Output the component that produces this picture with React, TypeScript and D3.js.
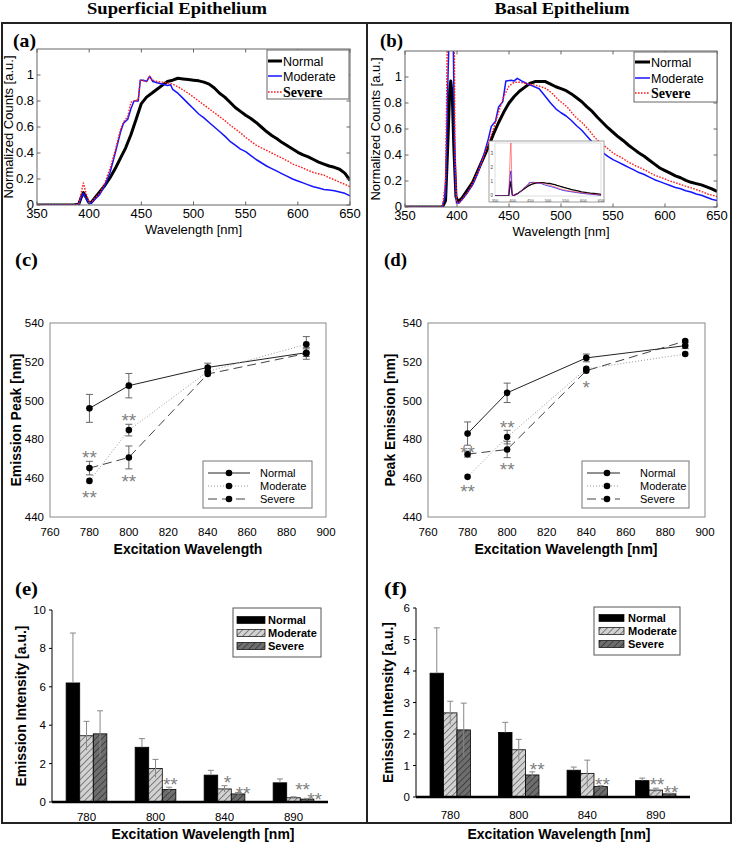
import * as d3 from "d3";

type Pt = [number, number];

const SANS = "'Liberation Sans', Arial, Helvetica, sans-serif";
const NARROW = "'Liberation Sans Narrow', 'Arial Narrow', 'Liberation Sans', Arial, sans-serif";
const SERIF = "'Liberation Serif', 'Times New Roman', Times, serif";

// (a) superficial epithelium, normalized spectra [nm, counts]
const supNormal: Pt[] = [
  [350, 0], [385, 0], [390, 0.005], [392, 0.05], [394.5, 0.095], [397, 0.06], [399.5, 0.02], [402, 0.02],
  [405, 0.05], [410, 0.1], [415, 0.15], [420, 0.21], [425, 0.28], [430, 0.36], [435, 0.44], [440, 0.54],
  [445, 0.66], [450, 0.78], [455, 0.83], [460, 0.86], [465, 0.89], [470, 0.92], [475, 0.95], [480, 0.96],
  [485, 0.975], [490, 0.97], [495, 0.965], [500, 0.96], [505, 0.955], [510, 0.945], [515, 0.93], [520, 0.9],
  [525, 0.86], [530, 0.83], [535, 0.79], [540, 0.75], [545, 0.72], [550, 0.69], [555, 0.665], [560, 0.635],
  [565, 0.6], [570, 0.565], [575, 0.535], [580, 0.51], [585, 0.48], [590, 0.455], [595, 0.43], [600, 0.405],
  [605, 0.385], [610, 0.37], [615, 0.35], [620, 0.33], [625, 0.315], [630, 0.3], [635, 0.29], [640, 0.275],
  [645, 0.245], [650, 0.19],
];
const supModerate: Pt[] = [
  [350, 0], [385, 0], [390, 0.005], [392, 0.05], [394.5, 0.09], [397, 0.05], [400, 0.01], [403, 0.02],
  [405, 0.04], [410, 0.08], [415, 0.15], [420, 0.25], [425, 0.4], [430, 0.56], [433, 0.63], [437, 0.66],
  [440, 0.74], [443, 0.8], [447, 0.8], [449, 0.96], [452, 0.96], [455, 0.95], [458, 0.99], [461, 0.95],
  [465, 0.94], [470, 0.93], [475, 0.92], [478, 0.925], [480, 0.89], [485, 0.86], [490, 0.82], [495, 0.78],
  [500, 0.74], [505, 0.7], [510, 0.67], [515, 0.635], [520, 0.6], [525, 0.565], [530, 0.53], [535, 0.49],
  [540, 0.46], [545, 0.43], [550, 0.41], [555, 0.38], [560, 0.35], [565, 0.325], [570, 0.3], [575, 0.28],
  [580, 0.26], [585, 0.24], [590, 0.22], [595, 0.2], [600, 0.185], [605, 0.17], [610, 0.155], [615, 0.14],
  [620, 0.13], [625, 0.12], [630, 0.115], [635, 0.11], [640, 0.1], [645, 0.09], [650, 0.07],
];
const supSevere: Pt[] = [
  [350, 0], [385, 0], [390, 0.005], [392, 0.08], [394.5, 0.17], [397, 0.09], [400, 0.02], [403, 0.03],
  [405, 0.05], [410, 0.09], [415, 0.17], [420, 0.28], [425, 0.42], [430, 0.58], [433, 0.64], [437, 0.68],
  [440, 0.79], [443, 0.8], [447, 0.81], [449, 0.96], [452, 0.955], [455, 0.95], [458, 0.99], [461, 0.96],
  [465, 0.95], [470, 0.945], [475, 0.94], [480, 0.93], [485, 0.91], [490, 0.885], [495, 0.86], [500, 0.83],
  [505, 0.8], [510, 0.77], [515, 0.74], [520, 0.71], [525, 0.68], [530, 0.65], [535, 0.615], [540, 0.585],
  [545, 0.555], [550, 0.52], [555, 0.49], [560, 0.46], [565, 0.44], [570, 0.42], [575, 0.4], [580, 0.38],
  [585, 0.36], [590, 0.34], [595, 0.315], [600, 0.3], [605, 0.285], [610, 0.265], [615, 0.25], [620, 0.24],
  [625, 0.23], [630, 0.21], [635, 0.195], [640, 0.175], [645, 0.16], [650, 0.14],
];

// (b) basal epithelium, normalized spectra
const basNormal: Pt[] = [
  [350, 0], [386, 0], [389, 0.05], [391, 0.45], [393, 0.9], [394, 0.97], [395.5, 0.85], [397, 0.45],
  [399, 0.08], [401, 0.04], [405, 0.07], [410, 0.13], [415, 0.19], [420, 0.28], [425, 0.37], [430, 0.46],
  [435, 0.56], [440, 0.65], [445, 0.73], [450, 0.8], [455, 0.85], [460, 0.89], [465, 0.92], [470, 0.95],
  [475, 0.965], [480, 0.965], [485, 0.965], [490, 0.945], [495, 0.925], [500, 0.91], [505, 0.895], [510, 0.87],
  [515, 0.84], [520, 0.81], [525, 0.77], [530, 0.735], [535, 0.69], [540, 0.65], [545, 0.61], [550, 0.575],
  [555, 0.54], [560, 0.51], [565, 0.475], [570, 0.445], [575, 0.415], [580, 0.39], [585, 0.36], [590, 0.33],
  [595, 0.3], [600, 0.28], [605, 0.26], [610, 0.24], [615, 0.225], [620, 0.205], [625, 0.19], [630, 0.18],
  [635, 0.17], [640, 0.155], [645, 0.14], [650, 0.12],
];
const basModerate: Pt[] = [
  [350, 0], [386, 0], [389, 0.1], [391, 0.9], [393, 1.5], [395, 1.8], [396.5, 1.2], [398, 0.3],
  [399.5, 0.03], [402, 0.03], [405, 0.06], [410, 0.11], [415, 0.17], [420, 0.26], [425, 0.38], [430, 0.52],
  [433, 0.62], [437, 0.66], [440, 0.77], [444, 0.81], [447, 0.97], [452, 0.975], [455, 0.97], [458, 0.99],
  [462, 0.97], [467, 0.95], [473, 0.93], [479, 0.91], [485, 0.85], [490, 0.8], [495, 0.755], [500, 0.725],
  [505, 0.7], [510, 0.665], [515, 0.625], [520, 0.59], [525, 0.545], [530, 0.5], [535, 0.465], [540, 0.42],
  [545, 0.39], [550, 0.365], [555, 0.345], [560, 0.325], [565, 0.305], [570, 0.285], [575, 0.265], [580, 0.25],
  [585, 0.23], [590, 0.21], [595, 0.195], [600, 0.18], [605, 0.165], [610, 0.15], [615, 0.14], [620, 0.125],
  [625, 0.115], [630, 0.1], [635, 0.09], [640, 0.075], [645, 0.06], [650, 0.05],
];
const basSevere: Pt[] = [
  [350, 0], [386, 0], [389, 0.2], [391, 1.5], [393, 3.0], [395, 3.9], [396.5, 2.5], [398, 0.5],
  [399.5, 0.04], [402, 0.03], [405, 0.06], [410, 0.11], [415, 0.18], [420, 0.27], [425, 0.37], [430, 0.49],
  [435, 0.6], [440, 0.73], [445, 0.85], [450, 0.93], [455, 0.96], [460, 0.96], [466, 0.95], [473, 0.94],
  [479, 0.93], [486, 0.91], [492, 0.87], [498, 0.82], [503, 0.79], [507, 0.76], [513, 0.7], [520, 0.65],
  [526, 0.6], [532, 0.54], [538, 0.49], [545, 0.45], [551, 0.41], [558, 0.38], [564, 0.35], [571, 0.32],
  [578, 0.295], [584, 0.27], [590, 0.245], [597, 0.225], [603, 0.205], [609, 0.19], [616, 0.17], [622, 0.155],
  [628, 0.14], [635, 0.12], [641, 0.1], [648, 0.085], [650, 0.08],
];

const groupNames = ["Normal", "Moderate", "Severe"];
const wavelengthTicks = [350, 400, 450, 500, 550, 600, 650];
const countTicks = [0, 0.2, 0.4, 0.6, 0.8, 1];
const insetTicksY = [0, 1, 2, 3];

// (c),(d) emission peak vs excitation
const excitation = [780, 800, 840, 890];
const excitationTicks = [760, 780, 800, 820, 840, 860, 880, 900];
const peakTicks = [440, 460, 480, 500, 520, 540];
const supPeakNormal = [496, 507.7, 517.1, 524.7];
const supPeakModerate = [458.6, 484.8, 515, 529];
const supPeakSevere = [465.2, 470.7, 513.7, 524.3];
const supPeakErrNormal = [7.2, 6.3, 2.2, 2];
const supPeakErrModerate = [0, 3, 0, 4];
const supPeakErrSevere = [3.5, 5.9, 0, 3];
const basPeakNormal = [483, 504, 522, 528.3];
const basPeakModerate = [460.7, 481.2, 516.4, 524];
const basPeakSevere = [472.4, 474.8, 515.4, 530.7];
const basPeakErrNormal = [6, 5, 2, 1.5];
const basPeakErrModerate = [0, 3.5, 0, 0];
const basPeakErrSevere = [1.5, 4.2, 0, 0];
const supPeakMarks = [
  { x: 780, y: 473.2, t: "**" }, { x: 780, y: 452.3, t: "**" },
  { x: 800, y: 492, t: "**" }, { x: 800, y: 460.8, t: "**" },
];
const basPeakMarks = [
  { x: 780, y: 475.5, t: "**" }, { x: 780, y: 455.5, t: "**" },
  { x: 800, y: 488.7, t: "**" }, { x: 800, y: 466.7, t: "**" },
  { x: 840, y: 508.9, t: "*" },
];

// (e),(f) emission intensity
const barCategories = ["780", "800", "840", "890"];
const supIntNormal = [6.2, 2.85, 1.4, 1.0];
const supIntModerate = [3.45, 1.75, 0.68, 0.22];
const supIntSevere = [3.55, 0.65, 0.42, 0.15];
const supIntErrNormal = [2.6, 0.45, 0.25, 0.2];
const supIntErrModerate = [0.75, 0.47, 0.17, 0.05];
const supIntErrSevere = [1.2, 0.12, 0.07, 0.04];
const basIntNormal = [3.93, 2.05, 0.85, 0.52];
const basIntModerate = [2.67, 1.5, 0.75, 0.22];
const basIntSevere = [2.13, 0.7, 0.33, 0.1];
const basIntErrNormal = [1.44, 0.32, 0.1, 0.08];
const basIntErrModerate = [0.37, 0.33, 0.42, 0.06];
const basIntErrSevere = [0.85, 0.1, 0.03, 0.02];
const supIntTicks = [0, 2, 4, 6, 8, 10];
const basIntTicks = [0, 1, 2, 3, 4, 5, 6];
// slot = position in bar widths inside the group
const supIntMarks = [
  { cat: "800", slot: 2.59, v: 1.17, t: "**" }, { cat: "840", slot: 1.72, v: 1.25, t: "*" },
  { cat: "840", slot: 2.87, v: 0.7, t: "**" }, { cat: "890", slot: 2.17, v: 0.89, t: "**" },
  { cat: "890", slot: 3.05, v: 0.36, t: "**" },
];
const basIntMarks = [
  { cat: "800", slot: 2.87, v: 1.02, t: "**" }, { cat: "840", slot: 2.63, v: 0.54, t: "**" },
  { cat: "890", slot: 1.6, v: 0.54, t: "**" }, { cat: "890", slot: 2.64, v: 0.29, t: "**" },
];

const specStyles = [
  { color: "#000000", width: 3, dash: undefined as string | undefined },
  { color: "#1414ff", width: 1.5, dash: undefined as string | undefined },
  { color: "#ff1a1a", width: 1.4, dash: "1.6,1.4" },
];
const peakStyles = [
  { color: "#222", dash: undefined as string | undefined },
  { color: "#999", dash: "1,2" },
  { color: "#444", dash: "9,5" },
];
const barFills = ["#000000", "url(#hatchLight)", "url(#hatchDark)"];

function Star({ x, y, t }: { x: number; y: number; t: string }) {
  // y is the centre of the asterisk glyph
  return (
    <text x={x} y={y + 11} textAnchor="middle" fontFamily={SANS} fontSize={19}
      fill="#808080">{t}</text>
  );
}

function Tag({ x, y, t }: { x: number; y: number; t: string }) {
  return (
    <text x={x} y={y} fontFamily={SERIF} fontWeight="bold" fontSize={19} textLength={23}
      lengthAdjust="spacingAndGlyphs" fill="#000">{t}</text>
  );
}

function SpectrumPanel({ box, data, legend, tag, tagX, yTitleX, clipId, inset }: any) {
  const x = d3.scaleLinear().domain([350, 650]).range([box.left, box.right]);
  const y = d3.scaleLinear().domain([0, 1.2]).range([box.bottom, box.top]);
  const line = d3.line<Pt>().x((d) => x(d[0])).y((d) => y(d[1]));
  const tl = 3.5;

  let insetEls = null;
  if (inset) {
    const ix = d3.scaleLinear().domain([350, 650]).range([inset.left + 6, inset.right - 3]);
    const iy = d3.scaleLinear().domain([0, 3.8]).range([inset.bottom - 6, inset.top + 2]);
    const iline = d3.line<Pt>().x((d) => ix(d[0])).y((d) => iy(d[1]));
    const iw = [1.3, 0.8, 0.7];
    insetEls = (
      <g>
        <rect x={inset.left} y={inset.top} width={inset.right - inset.left}
          height={inset.bottom - inset.top} fill="#fff" stroke="#888" strokeWidth={0.8} />
        <defs>
          <clipPath id={clipId + "i"}>
            <rect x={ix.range()[0]} y={iy.range()[1]} width={ix.range()[1] - ix.range()[0]}
              height={iy.range()[0] - iy.range()[1]} />
          </clipPath>
        </defs>
        <rect x={ix.range()[0]} y={iy.range()[1]} width={ix.range()[1] - ix.range()[0]}
          height={iy.range()[0] - iy.range()[1]} fill="none" stroke="#bbb" strokeWidth={0.5} />
        <g clipPath={`url(#${clipId}i)`}>
          {data.map((s: Pt[], i: number) => (
            <path key={i} d={iline(s) || ""} fill="none" stroke={specStyles[i].color}
              strokeWidth={iw[i]} opacity={i === 2 ? 0.75 : 1} />
          ))}
        </g>
        {wavelengthTicks.map((t) => (
          <text key={t} x={ix(t)} y={inset.bottom - 0.5} textAnchor="middle" fontFamily={SANS}
            fontSize={4} fill="#444">{t}</text>
        ))}
        {insetTicksY.map((t) => (
          <text key={t} x={ix.range()[0] - 2} y={iy(t) + 1.2} textAnchor="end" fontFamily={SANS}
            fontSize={4.5} fill="#444">{t}</text>
        ))}
      </g>
    );
  }

  return (
    <g>
      <defs>
        <clipPath id={clipId}>
          <rect x={box.left} y={box.top} width={box.right - box.left} height={box.bottom - box.top} />
        </clipPath>
      </defs>
      <g clipPath={`url(#${clipId})`}>
        {data.map((s: Pt[], i: number) => (
          <path key={i} d={line(s) || ""} fill="none" stroke={specStyles[i].color}
            strokeWidth={specStyles[i].width} strokeDasharray={specStyles[i].dash}
            strokeLinejoin="round" />
        ))}
      </g>
      {insetEls}
      <rect x={box.left} y={box.top} width={box.right - box.left} height={box.bottom - box.top}
        fill="none" stroke="#666" strokeWidth={1} />
      {wavelengthTicks.map((t) => (
        <g key={t}>
          <line x1={x(t)} x2={x(t)} y1={box.bottom} y2={box.bottom - tl} stroke="#666" />
          <line x1={x(t)} x2={x(t)} y1={box.top} y2={box.top + tl} stroke="#666" />
          <text x={x(t)} y={box.bottom + 13} textAnchor="middle" fontFamily={NARROW}
            fontSize={13} fill="#000">{t}</text>
        </g>
      ))}
      {countTicks.map((t) => (
        <g key={t}>
          <line x1={box.left} x2={box.left + tl} y1={y(t)} y2={y(t)} stroke="#666" />
          <line x1={box.right} x2={box.right - tl} y1={y(t)} y2={y(t)} stroke="#666" />
          <text x={box.left - 3} y={y(t) + 3.5} textAnchor="end" fontFamily={SANS}
            fontSize={13} fill="#000">{String(t)}</text>
        </g>
      ))}
      <text x={(box.left + box.right) / 2} y={box.bottom + 29} textAnchor="middle"
        fontFamily={SANS} fontSize={13} fill="#000">Wavelength [nm]</text>
      <text transform={`translate(${yTitleX},${(box.top + box.bottom) / 2}) rotate(-90)`}
        textAnchor="middle" dominantBaseline="central" fontFamily={SANS} fontSize={13}
        fill="#000">Normalized Counts [a.u.]</text>
      <g>
        <rect x={legend.x} y={legend.y} width={legend.w} height={legend.h} fill="#fff"
          stroke="#666" strokeWidth={1} />
        {groupNames.map((n, i) => {
          const ry = legend.rows[i];
          return (
            <g key={n}>
              <line x1={legend.lx0} x2={legend.lx1} y1={ry} y2={ry} stroke={specStyles[i].color}
                strokeWidth={specStyles[i].width} strokeDasharray={specStyles[i].dash} />
              {i < 2 ? (
                <text x={legend.tx} y={ry + 4.5} fontFamily={SANS} fontSize={12.5} fill="#000">{n}</text>
              ) : (
                <text x={legend.tx} y={ry + 5} fontFamily={SERIF} fontWeight="bold" fontSize={14}
                  fill="#000">{n}</text>
              )}
            </g>
          );
        })}
      </g>
      <Tag x={tagX} y={46.5} t={tag} />
    </g>
  );
}

function PeakPanel({ box, series, errs, marks, legend, yTitle, yTitleX, xTitle, xTitleX, tag, tagX }: any) {
  const x = d3.scaleLinear().domain([760, 900]).range([box.left, box.right]);
  const y = d3.scaleLinear().domain([440, 540]).range([box.bottom, box.top]);
  const line = d3.line<number>().x((_, i) => x(excitation[i])).y((d) => y(d));
  return (
    <g>
      <rect x={box.left} y={box.top} width={box.right - box.left} height={box.bottom - box.top}
        fill="none" stroke="#888" strokeWidth={1} />
      {series.map((s: number[], i: number) => (
        <path key={"l" + i} d={line(s) || ""} fill="none" stroke={peakStyles[i].color}
          strokeWidth={1} strokeDasharray={peakStyles[i].dash} />
      ))}
      {series.map((s: number[], i: number) =>
        s.map((v, j) => {
          const e = errs[i][j];
          if (!e) return null;
          const cx = x(excitation[j]);
          return (
            <g key={`e${i}-${j}`} stroke="#666" strokeWidth={1}>
              <line x1={cx} x2={cx} y1={y(v - e)} y2={y(v + e)} />
              <line x1={cx - 3.5} x2={cx + 3.5} y1={y(v + e)} y2={y(v + e)} />
              <line x1={cx - 3.5} x2={cx + 3.5} y1={y(v - e)} y2={y(v - e)} />
            </g>
          );
        })
      )}
      {series.map((s: number[], i: number) =>
        s.map((v, j) => <circle key={`c${i}-${j}`} cx={x(excitation[j])} cy={y(v)} r={3.3} fill="#000" />)
      )}
      {marks.map((m: any, k: number) => <Star key={k} x={x(m.x)} y={y(m.y)} t={m.t} />)}
      {excitationTicks.map((t) => (
        <text key={t} x={x(t)} y={box.bottom + 19} textAnchor="middle" fontFamily={SANS}
          fontSize={11.5} fill="#000">{t}</text>
      ))}
      {peakTicks.map((t) => (
        <text key={t} x={box.left - 6} y={y(t) + 4} textAnchor="end" fontFamily={SANS}
          fontSize={11.5} fill="#000">{t}</text>
      ))}
      <text x={xTitleX} y={554} textAnchor="middle" fontFamily={SANS} fontWeight="bold"
        fontSize={14} fill="#000">{xTitle}</text>
      <text transform={`translate(${yTitleX},${(box.top + box.bottom) / 2}) rotate(-90)`}
        textAnchor="middle" dominantBaseline="central" fontFamily={SANS} fontWeight="bold"
        fontSize={14} fill="#000">{yTitle}</text>
      <rect x={legend.x} y={legend.y} width={legend.w} height={legend.h} fill="#fff"
        stroke="#777" strokeWidth={1} />
      {groupNames.map((n, i) => {
        const ry = legend.rows[i];
        return (
          <g key={n}>
            <line x1={legend.lx0} x2={legend.lx1} y1={ry} y2={ry} stroke={peakStyles[i].color}
              strokeWidth={1} strokeDasharray={peakStyles[i].dash} />
            <circle cx={legend.mx} cy={ry} r={3.3} fill="#000" />
            <text x={legend.tx} y={ry + 4} fontFamily={SANS} fontSize={11} fill="#000">{n}</text>
          </g>
        );
      })}
      <Tag x={tagX} y={266} t={tag} />
    </g>
  );
}

function IntensityPanel({ frame, yMax, yTicks, series, errs, marks, legend, yTitleX, tag, tagX, catY }: any) {
  const x = d3.scaleBand().domain(barCategories).range([frame.left, frame.right])
    .paddingInner(0.41).paddingOuter(0.205);
  const inner = d3.scaleBand().domain(["0", "1", "2"]).range([0, x.bandwidth()]);
  const bw = inner.bandwidth();
  const y = d3.scaleLinear().domain([0, yMax]).range([frame.bottom, frame.top]);
  return (
    <g>
      {series.map((s: number[], i: number) =>
        s.map((v, j) => (
          <rect key={`b${i}-${j}`} x={(x(barCategories[j]) || 0) + (inner(String(i)) || 0)}
            y={y(v)} width={bw} height={frame.bottom - y(v)} fill={barFills[i]}
            stroke="#000" strokeWidth={0.8} />
        ))
      )}
      {series.map((s: number[], i: number) =>
        s.map((v, j) => {
          const e = errs[i][j];
          const cx = (x(barCategories[j]) || 0) + (inner(String(i)) || 0) + bw / 2;
          const lo = i === 0 ? v : v - e;
          return (
            <g key={`e${i}-${j}`} stroke="#888" strokeWidth={1}>
              <line x1={cx} x2={cx} y1={y(lo)} y2={y(v + e)} />
              <line x1={cx - 3} x2={cx + 3} y1={y(v + e)} y2={y(v + e)} />
            </g>
          );
        })
      )}
      {marks.map((m: any, k: number) => (
        <Star key={k} x={(x(m.cat) || 0) + m.slot * bw} y={y(m.v)} t={m.t} />
      ))}
      <line x1={frame.left} x2={frame.left} y1={y(yMax)} y2={frame.bottom} stroke="#000" strokeWidth={1} />
      {yTicks.map((t: number) => (
        <g key={t}>
          <line x1={frame.left - 3} x2={frame.left} y1={y(t)} y2={y(t)} stroke="#000" />
          <text x={frame.left - 6} y={y(t) + 4} textAnchor="end" fontFamily={SANS} fontSize={11.5}
            fill="#000">{t}</text>
        </g>
      ))}
      <line x1={frame.left} x2={frame.right} y1={frame.bottom} y2={frame.bottom} stroke="#000"
        strokeWidth={2.5} />
      {barCategories.map((c) => (
        <text key={c} x={(x(c) || 0) + x.bandwidth() / 2} y={catY} textAnchor="middle"
          fontFamily={SANS} fontSize={11.5} fill="#000">{c}</text>
      ))}
      <text transform={`translate(${yTitleX},${(frame.top + frame.bottom) / 2}) rotate(-90)`}
        textAnchor="middle" dominantBaseline="central" fontFamily={SANS} fontWeight="bold"
        fontSize={14} fill="#000">Emission Intensity [a.u.]</text>
      <rect x={legend.x} y={legend.y} width={legend.w} height={legend.h} fill="#fff"
        stroke="#555" strokeWidth={1} />
      {groupNames.map((n, i) => {
        const ry = legend.rows[i];
        return (
          <g key={n}>
            <rect x={legend.sx0} y={ry - 3.5} width={legend.sx1 - legend.sx0} height={7}
              fill={barFills[i]} stroke="#000" strokeWidth={0.7} />
            <text x={legend.tx} y={ry + 4} fontFamily={SANS} fontWeight="bold" fontSize={11}
              fill="#000">{n}</text>
          </g>
        );
      })}
      <Tag x={tagX} y={595} t={tag} />
    </g>
  );
}

export default function App() {
  return (
    <svg width={734} height={845} style={{ position: "absolute", left: 0, top: 0, background: "#fff" }}>
      <defs>
        <pattern id="hatchLight" patternUnits="userSpaceOnUse" width={4.5} height={4.5}
          patternTransform="rotate(45)">
          <rect width={4.5} height={4.5} fill="#d2d2d2" />
          <line x1={0} y1={0} x2={0} y2={4.5} stroke="#000" strokeWidth={0.8} />
        </pattern>
        <pattern id="hatchDark" patternUnits="userSpaceOnUse" width={4.5} height={4.5}
          patternTransform="rotate(45)">
          <rect width={4.5} height={4.5} fill="#6e6e6e" />
          <line x1={0} y1={0} x2={0} y2={4.5} stroke="#000" strokeWidth={0.8} />
        </pattern>
      </defs>
      <rect width={734} height={845} fill="#fff" />

      <text x={177} y={14} textAnchor="middle" fontFamily={SERIF} fontWeight="bold" fontSize={16.5}
        textLength={180} lengthAdjust="spacingAndGlyphs" fill="#000">Superficial Epithelium</text>
      <text x={562} y={14} textAnchor="middle" fontFamily={SERIF} fontWeight="bold" fontSize={16.5}
        textLength={135} lengthAdjust="spacingAndGlyphs" fill="#000">Basal Epithelium</text>

      <rect x={2} y={23} width={729} height={800} fill="none" stroke="#222" strokeWidth={2} />
      <line x1={367} x2={367} y1={23} y2={823} stroke="#222" strokeWidth={2} />

      <SpectrumPanel
        box={{ left: 37, right: 350, top: 49, bottom: 205 }}
        data={[supNormal, supModerate, supSevere]}
        legend={{ x: 267, y: 50, w: 82, h: 49, rows: [61, 76, 92], lx0: 268, lx1: 282, tx: 283 }}
        tag="(a)" tagX={13} yTitleX={8} clipId="clipA" inset={null}
      />
      <SpectrumPanel
        box={{ left: 405, right: 717, top: 51, bottom: 207 }}
        data={[basNormal, basModerate, basSevere]}
        legend={{ x: 634, y: 52, w: 83, h: 50, rows: [62, 78, 93], lx0: 635, lx1: 650, tx: 651 }}
        tag="(b)" tagX={380} yTitleX={375} clipId="clipB"
        inset={{ left: 489, right: 604, top: 141, bottom: 202 }}
      />

      <PeakPanel
        box={{ left: 50, right: 326, top: 323, bottom: 517 }}
        series={[supPeakNormal, supPeakModerate, supPeakSevere]}
        errs={[supPeakErrNormal, supPeakErrModerate, supPeakErrSevere]}
        marks={supPeakMarks}
        legend={{ x: 203, y: 461, w: 109, h: 47, rows: [473, 486, 499], lx0: 208, lx1: 250, mx: 229, tx: 260 }}
        yTitle="Emission Peak [nm]" yTitleX={16} xTitle="Excitation Wavelength" xTitleX={188}
        tag="(c)" tagX={15}
      />
      <PeakPanel
        box={{ left: 428, right: 705, top: 323, bottom: 517 }}
        series={[basPeakNormal, basPeakModerate, basPeakSevere]}
        errs={[basPeakErrNormal, basPeakErrModerate, basPeakErrSevere]}
        marks={basPeakMarks}
        legend={{ x: 582, y: 461, w: 107, h: 47, rows: [473, 486, 499], lx0: 587, lx1: 620, mx: 607, tx: 640 }}
        yTitle="Peak Emission [nm]" yTitleX={390} xTitle="Excitation Wavelength [nm]" xTitleX={566}
        tag="(d)" tagX={384}
      />

      <IntensityPanel
        frame={{ left: 52, right: 328, top: 610, bottom: 802 }}
        yMax={10} yTicks={supIntTicks}
        series={[supIntNormal, supIntModerate, supIntSevere]}
        errs={[supIntErrNormal, supIntErrModerate, supIntErrSevere]}
        marks={supIntMarks}
        legend={{ x: 233, y: 608, w: 88, h: 49, rows: [620, 633, 646], sx0: 237, sx1: 265, tx: 268 }}
        yTitleX={21} tag="(e)" tagX={15} catY={821}
      />
      <IntensityPanel
        frame={{ left: 416, right: 690, top: 608, bottom: 797 }}
        yMax={6} yTicks={basIntTicks}
        series={[basIntNormal, basIntModerate, basIntSevere]}
        errs={[basIntErrNormal, basIntErrModerate, basIntErrSevere]}
        marks={basIntMarks}
        legend={{ x: 594, y: 607, w: 86, h: 48, rows: [618, 631, 644], sx0: 599, sx1: 624, tx: 628 }}
        yTitleX={388} tag="(f)" tagX={384} catY={818.5}
      />

      <text x={203} y={839} textAnchor="middle" fontFamily={SANS} fontWeight="bold" fontSize={14}
        fill="#000">Excitation Wavelength [nm]</text>
      <text x={559} y={839} textAnchor="middle" fontFamily={SANS} fontWeight="bold" fontSize={14}
        fill="#000">Excitation Wavelength [nm]</text>
    </svg>
  );
}
